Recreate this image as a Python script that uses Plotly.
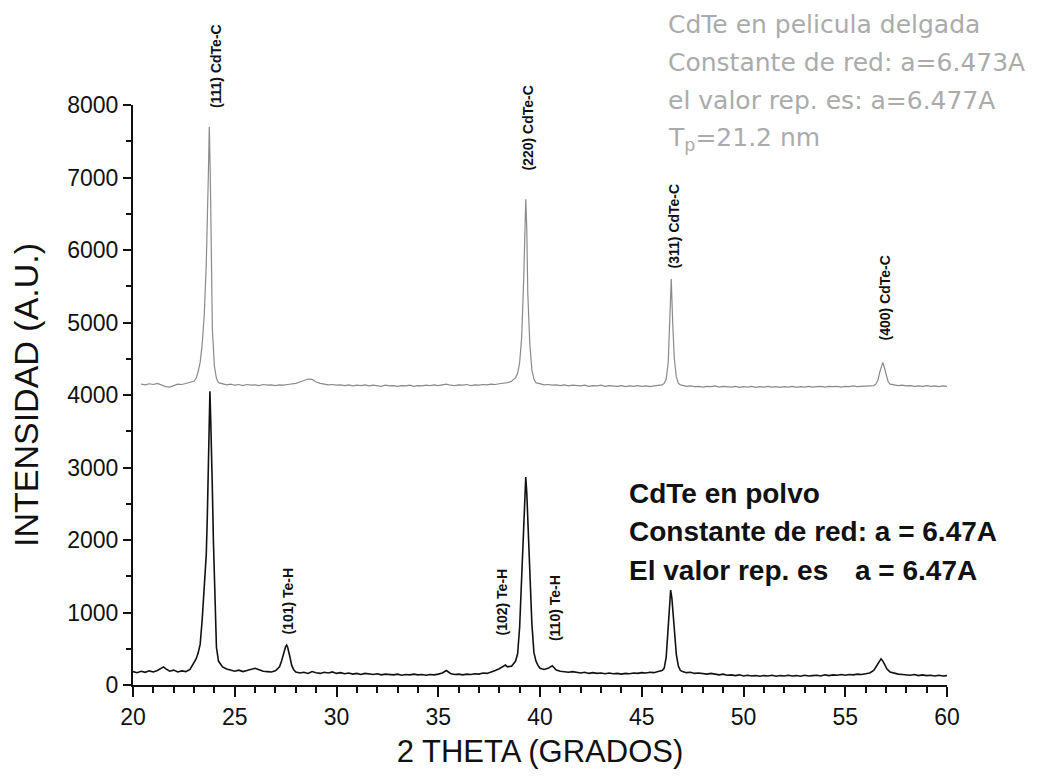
import plotly.graph_objects as go

# ---------------- data ----------------
# CdTe powder (black trace)
powder_x = [20.0, 20.2, 20.4, 20.6, 20.8, 21.0, 21.2, 21.4, 21.5, 21.6, 21.8, 22.0, 22.2, 22.4, 22.6, 22.8,
            23.0, 23.1, 23.2, 23.3, 23.4, 23.5, 23.6, 23.65, 23.7, 23.75, 23.78, 23.82, 23.86, 23.9, 23.95,
            24.0, 24.05, 24.1, 24.2, 24.3, 24.4, 24.6, 24.8, 25.0, 25.2, 25.4, 25.6, 25.8, 26.0, 26.2, 26.4,
            26.6, 26.8, 27.0, 27.2, 27.3, 27.4, 27.5, 27.55, 27.6, 27.7, 27.8, 27.9, 28.0, 28.2, 28.4, 28.6,
            28.8, 29.0, 29.2, 29.4, 29.6, 29.8, 30.0, 30.2, 30.4, 30.6, 30.8, 31.0, 31.2, 31.4, 31.6, 31.8,
            32.0, 32.2, 32.4, 32.6, 32.8, 33.0, 33.2, 33.4, 33.6, 33.8, 34.0, 34.2, 34.4, 34.6, 34.8, 35.0,
            35.2, 35.4, 35.6, 35.8, 36.0, 36.2, 36.4, 36.6, 36.8, 37.0, 37.2, 37.4, 37.6, 37.8, 38.0, 38.2,
            38.3, 38.4, 38.6, 38.8, 38.9, 39.0, 39.1, 39.15, 39.2, 39.25, 39.3, 39.35, 39.4, 39.45, 39.5,
            39.6, 39.7, 39.8, 39.9, 40.0, 40.2, 40.4, 40.6, 40.7, 40.8, 41.0, 41.2, 41.4, 41.6, 41.8, 42.0,
            42.2, 42.4, 42.6, 42.8, 43.0, 43.2, 43.4, 43.6, 43.8, 44.0, 44.2, 44.4, 44.6, 44.8, 45.0, 45.2,
            45.4, 45.6, 45.8, 46.0, 46.1, 46.2, 46.3, 46.35, 46.42, 46.48, 46.55, 46.6, 46.7, 46.8, 46.9,
            47.0, 47.2, 47.4, 47.6, 47.8, 48.0, 48.2, 48.4, 48.6, 48.8, 49.0, 49.2, 49.4, 49.6, 49.8, 50.0,
            50.2, 50.4, 50.6, 50.8, 51.0, 51.2, 51.4, 51.6, 51.8, 52.0, 52.2, 52.4, 52.6, 52.8, 53.0, 53.2,
            53.4, 53.6, 53.8, 54.0, 54.2, 54.4, 54.6, 54.8, 55.0, 55.2, 55.4, 55.6, 55.8, 56.0, 56.2, 56.4,
            56.5, 56.6, 56.7, 56.76, 56.85, 56.95, 57.05, 57.2, 57.4, 57.6, 57.8, 58.0, 58.2, 58.4, 58.6,
            58.8, 59.0, 59.2, 59.4, 59.6, 59.8, 60.0]
powder_y = [185, 170, 190, 175, 195, 180, 200, 235, 250, 225, 190, 205, 180, 195, 185, 215,
            300, 360, 440, 560, 900, 1450, 1800, 2300, 2900, 3700, 4050, 3650, 3300, 2700, 2000,
            1400, 900, 520, 330, 280, 250, 220, 200, 190, 205, 185, 200, 215, 230, 210, 190,
            185, 180, 195, 250, 330, 440, 530, 550, 520, 400, 270, 210, 180, 165, 175, 160,
            185, 170, 160, 175, 165, 180, 160, 170, 155, 165, 150, 160, 145, 160, 150, 145,
            155, 140, 150, 145, 140, 150, 135, 145, 140, 150, 140, 145, 135, 145, 140, 150,
            165, 200, 160, 145, 150, 140, 150, 145, 155, 150, 165, 160, 175, 200, 225, 260,
            275, 250, 260, 330, 430, 800, 1500, 1900, 2400, 2700, 2870, 2650, 2300, 1950, 1500,
            850, 450, 330, 270, 230, 215, 230, 265, 240, 205, 190, 180, 175, 185, 170, 165,
            175, 160, 170, 160, 165, 155, 165, 155, 160, 150, 160, 155, 165, 160, 170, 165,
            175, 170, 185, 200, 230, 380, 800, 1050, 1310, 1200, 950, 780, 420, 260, 200,
            185, 170, 175, 160, 165, 155, 150, 160, 145, 140, 150, 135, 140, 130, 140, 125,
            135, 125, 130, 120, 130, 125, 135, 120, 130, 125, 135, 125, 130, 120, 135, 125,
            130, 135, 125, 140, 130, 140, 135, 145, 135, 145, 140, 150, 145, 155, 165, 200,
            250, 300, 345, 360, 330, 270, 220, 180, 160, 150, 145, 140, 135, 145, 130,
            140, 130, 135, 125, 135, 125, 130]

# CdTe thin film (grey trace)
film_x = [20.4, 20.6, 20.8, 21.0, 21.2, 21.4, 21.6, 21.8, 22.0, 22.2, 22.4, 22.6, 22.8, 23.0, 23.1, 23.2,
          23.3, 23.4, 23.5, 23.6, 23.7, 23.75, 23.8, 23.85, 23.9, 24.0, 24.1, 24.2, 24.4, 24.6, 24.8, 25.0,
          25.2, 25.4, 25.6, 25.8, 26.0, 26.2, 26.4, 26.6, 26.8, 27.0, 27.2, 27.4, 27.6, 27.8, 28.0, 28.2,
          28.4, 28.6, 28.8, 29.0, 29.2, 29.4, 29.6, 29.8, 30.0, 30.2, 30.4, 30.6, 30.8, 31.0, 31.2, 31.4,
          31.6, 31.8, 32.0, 32.2, 32.4, 32.6, 32.8, 33.0, 33.2, 33.4, 33.6, 33.8, 34.0, 34.2, 34.4, 34.6,
          34.8, 35.0, 35.2, 35.4, 35.6, 35.8, 36.0, 36.2, 36.4, 36.6, 36.8, 37.0, 37.2, 37.4, 37.6, 37.8,
          38.0, 38.2, 38.4, 38.6, 38.8, 38.9, 39.0, 39.1, 39.2, 39.3, 39.35, 39.4, 39.5, 39.6, 39.7, 39.8,
          40.0, 40.2, 40.4, 40.6, 40.8, 41.0, 41.2, 41.4, 41.6, 41.8, 42.0, 42.2, 42.4, 42.6, 42.8, 43.0,
          43.2, 43.4, 43.6, 43.8, 44.0, 44.2, 44.4, 44.6, 44.8, 45.0, 45.2, 45.4, 45.6, 45.8, 46.0, 46.1,
          46.2, 46.3, 46.38, 46.45, 46.52, 46.6, 46.7, 46.8, 46.9, 47.0, 47.2, 47.4, 47.6, 47.8, 48.0,
          48.2, 48.4, 48.6, 48.8, 49.0, 49.2, 49.4, 49.6, 49.8, 50.0, 50.2, 50.4, 50.6, 50.8, 51.0, 51.2,
          51.4, 51.6, 51.8, 52.0, 52.2, 52.4, 52.6, 52.8, 53.0, 53.2, 53.4, 53.6, 53.8, 54.0, 54.2, 54.4,
          54.6, 54.8, 55.0, 55.2, 55.4, 55.6, 55.8, 56.0, 56.2, 56.4, 56.5, 56.6, 56.7, 56.8, 56.85, 56.9,
          57.0, 57.1, 57.2, 57.4, 57.6, 57.8, 58.0, 58.2, 58.4, 58.6, 58.8, 59.0, 59.2, 59.4, 59.6, 59.8, 60.0]
film_y = [4150, 4140, 4155, 4145, 4160, 4140, 4115, 4110, 4130, 4150, 4145, 4160, 4170, 4190, 4230, 4320,
          4450, 4700, 5100, 5800, 7000, 7700, 7000, 5800, 4900, 4400, 4230, 4170, 4155, 4140, 4150, 4135,
          4145, 4130, 4145, 4135, 4140, 4130, 4145, 4135, 4140, 4130, 4140, 4135, 4145, 4150, 4160, 4180,
          4200, 4220, 4215, 4180, 4160, 4150, 4140, 4145, 4135, 4140, 4130, 4140, 4125, 4135, 4130, 4140,
          4125, 4135, 4130, 4120, 4135, 4125, 4130, 4120, 4130, 4125, 4135, 4120, 4130, 4125, 4135, 4130,
          4140, 4130, 4140, 4150, 4135, 4130, 4140, 4135, 4145, 4130, 4140, 4135, 4145, 4140, 4150, 4145,
          4155, 4160, 4170, 4190, 4240, 4300, 4450, 4800, 5600, 6700, 6300, 5400, 4700, 4350, 4220, 4170,
          4150, 4140, 4145, 4135, 4140, 4130, 4140, 4125, 4135, 4130, 4125, 4135, 4120, 4130, 4125, 4135,
          4120, 4130, 4125, 4120, 4130, 4115, 4125, 4120, 4130, 4120, 4125, 4115, 4125, 4130, 4140, 4160,
          4220, 4450, 5000, 5600, 5000, 4500, 4250, 4160, 4140, 4130, 4120, 4125, 4115, 4120, 4110,
          4120, 4115, 4125, 4110, 4120, 4115, 4110, 4120, 4105, 4115, 4110, 4120, 4105, 4115, 4110, 4120,
          4110, 4115, 4105, 4115, 4110, 4120, 4105, 4115, 4110, 4120, 4110, 4115, 4120, 4110, 4120, 4115,
          4120, 4110, 4120, 4115, 4125, 4115, 4120, 4125, 4120, 4130, 4150, 4200, 4320, 4420, 4450, 4400,
          4280, 4190, 4150, 4140, 4130, 4135, 4125, 4130, 4120, 4125, 4120, 4130, 4120, 4125, 4115, 4125, 4120]

# peak labels: (text, 2theta position, bottom of label in intensity units)
peak_labels = ["(111) CdTe-C", "(220) CdTe-C", "(311) CdTe-C", "(400) CdTe-C",
               "(101) Te-H", "(102) Te-H", "(110) Te-H"]
peak_label_x = [24.08, 39.41, 46.58, 56.95, 27.57, 38.13, 40.74]
peak_label_y = [7930, 7076, 5724, 4731, 662, 662, 579]

film_text = ["CdTe en pelicula delgada", "Constante de red: a=6.473A",
             "el valor rep. es: a=6.477A", "T<sub>p</sub>=21.2 nm"]
powder_text = ["CdTe en polvo", "Constante de red: a = 6.47A", "El valor rep. es"]
powder_value_text = "a = 6.47A"

x_title = "2 THETA (GRADOS)"
y_title = "INTENSIDAD (A.U.)"

# ---------------- figure ----------------
FONT = "Arial, Liberation Sans, sans-serif"

fig = go.Figure()
fig.add_trace(go.Scatter(x=film_x, y=film_y, mode="lines",
                         line=dict(color="#8a8a8a", width=1.2), showlegend=False))
fig.add_trace(go.Scatter(x=powder_x, y=powder_y, mode="lines",
                         line=dict(color="#111111", width=1.6), showlegend=False))

for t, xv, yv in zip(peak_labels, peak_label_x, peak_label_y):
    fig.add_annotation(x=xv, y=yv, xref="x", yref="y", text=f"<b>{t}</b>", textangle=-90,
                       showarrow=False, xanchor="center", yanchor="bottom",
                       font=dict(family=FONT, size=14, color="#111111"))

film_text_y = [25, 63, 101, 139]
for t, yy in zip(film_text, film_text_y):
    fig.add_annotation(x=666, y=yy, xref="paper", yref="paper", text=t, showarrow=False,
                       xanchor="left", yanchor="middle",
                       font=dict(family="DejaVu Sans, sans-serif", size=25, color="#ababab"))

powder_text_y = [493, 531, 570]
for t, yy in zip(powder_text, powder_text_y):
    fig.add_annotation(x=627, y=yy, xref="paper", yref="paper", text=f"<b>{t}</b>", showarrow=False,
                       xanchor="left", yanchor="middle",
                       font=dict(family=FONT, size=28, color="#111111"))
fig.add_annotation(x=853, y=570, xref="paper", yref="paper", text=f"<b>{powder_value_text}</b>",
                   showarrow=False, xanchor="left", yanchor="middle",
                   font=dict(family=FONT, size=28, color="#111111"))

# convert pixel-positioned annotations to paper coords
W, H = 1040, 778
ML, MR, MT, MB = 133, 93, 105, 93
pw, ph = W - ML - MR, H - MT - MB
for a in fig.layout.annotations:
    if a.xref == "paper":
        a.x = (a.x - ML) / pw
        a.y = 1 - (a.y - MT) / ph

fig.update_layout(
    width=W, height=H,
    margin=dict(l=ML, r=MR, t=MT, b=MB),
    paper_bgcolor="white", plot_bgcolor="white",
    font=dict(family=FONT, color="#111111"),
    xaxis=dict(range=[20, 60], dtick=5, tick0=20, showgrid=False, zeroline=False,
               showline=True, linecolor="#111111", linewidth=2,
               ticks="outside", ticklen=10, tickwidth=2, tickcolor="#111111",
               minor=dict(dtick=1, ticks="outside", ticklen=6, tickwidth=1.5, tickcolor="#111111"),
               tickfont=dict(size=23, family=FONT, color="#111111"),
               title=dict(text=x_title, font=dict(size=31, family=FONT, color="#111111"), standoff=12)),
    yaxis=dict(range=[0, 8000], dtick=1000, showgrid=False, zeroline=False,
               showline=True, linecolor="#111111", linewidth=2,
               ticks="outside", ticklen=8, tickwidth=2, tickcolor="#111111",
               minor=dict(dtick=500, ticks="outside", ticklen=5, tickwidth=1.5, tickcolor="#111111"),
               tickfont=dict(size=23, family=FONT, color="#111111"),
               title=dict(text=y_title, font=dict(size=34, family=FONT, color="#111111"), standoff=18)),
)

fig.write_html("out.html")
